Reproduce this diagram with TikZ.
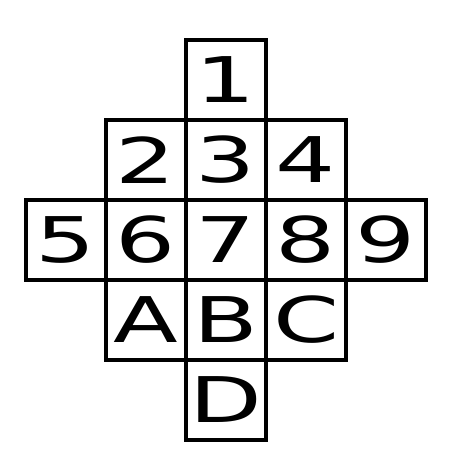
\documentclass[tikz,border=0pt]{standalone}
\usepackage{fontspec}
\setmainfont{DejaVu Sans}
\begin{document}
\begin{tikzpicture}[x=1pt,y=-1pt,
  cellbox/.style={draw=black, line width=3.5pt, minimum width=80pt, minimum height=80pt, inner sep=0pt, font=\fontsize{63}{63}\selectfont},
  ]
\useasboundingbox (0,0) rectangle (464,472);
\newcommand{\wide}[1]{\scalebox{1.5}[1]{#1}}
\node[cellbox] (c1) at (226,80) {\wide{1}};
\node[cellbox] (c2) at (146,160) {\wide{2}};
\node[cellbox] (c3) at (226,160) {\wide{3}};
\node[cellbox] (c4) at (306,160) {\wide{4}};
\node[cellbox] (c5) at (66,240) {\wide{5}};
\node[cellbox] (c6) at (146,240) {\wide{6}};
\node[cellbox] (c7) at (226,240) {\wide{7}};
\node[cellbox] (c8) at (306,240) {\wide{8}};
\node[cellbox] (c9) at (386,240) {\wide{9}};
\node[cellbox] (cA) at (146,320) {\wide{A}};
\node[cellbox] (cB) at (226,320) {\wide{B}};
\node[cellbox] (cC) at (306,320) {\wide{C}};
\node[cellbox] (cD) at (226,400) {\wide{D}};
\end{tikzpicture}
\end{document}
